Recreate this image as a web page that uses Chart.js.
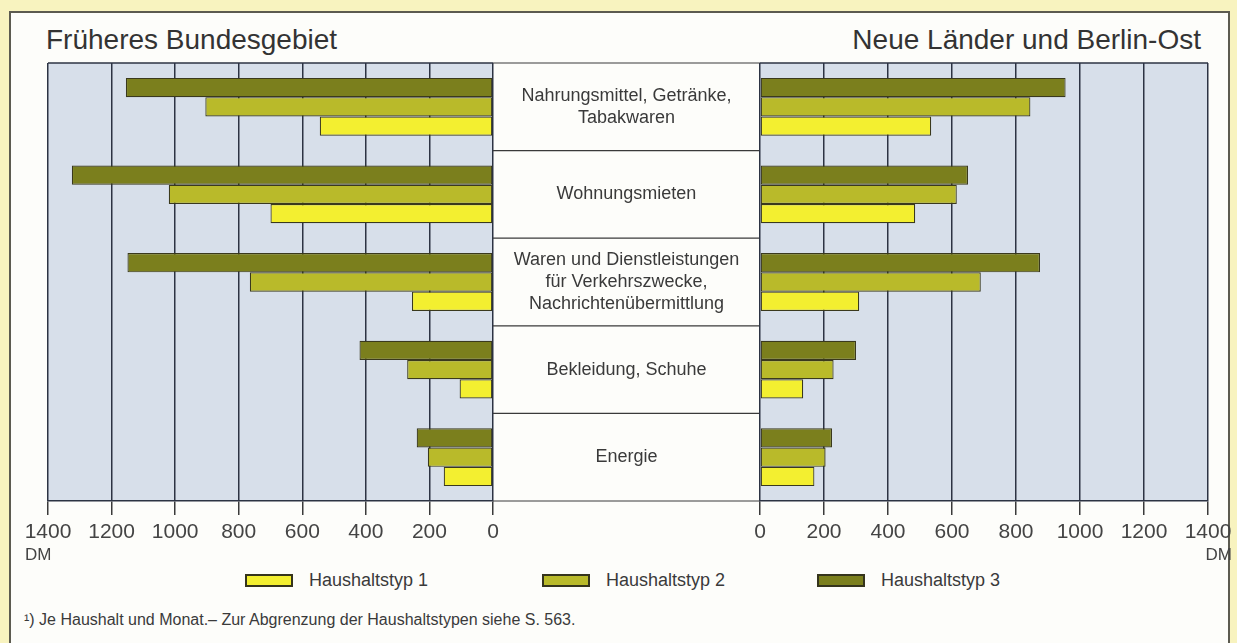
<!DOCTYPE html>
<html lang="de">
<head>
<meta charset="utf-8">
<title>Ausgaben nach Haushaltstypen</title>
<script src="https://cdn.jsdelivr.net/npm/chart.js@4.4.1/dist/chart.umd.min.js"></script>
<style>
    html, body { margin: 0; padding: 0; }
    body {
        width: 1237px; height: 643px; position: relative; overflow: hidden;
        background: #f8f3bf;
        font-family: "Liberation Sans", Arial, sans-serif; color: #3a3a3a;
    }
    .panel {
        position: absolute; left: 9px; top: 11px; width: 1217px; height: 640px;
        background: #fdfdfa;
        border-top: 2px solid #5c5b50; border-left: 2px solid #5c5b50; border-right: 2px solid #5c5b50;
    }
    .title { position: absolute; top: 26px; font-size: 28px; line-height: 1; color: #333; white-space: nowrap; }
    .unit { position: absolute; top: 546px; font-size: 17px; line-height: 1; color: #444; }
    canvas { position: absolute; }
    .legend-item { position: absolute; top: 571px; height: 19px; display: flex; align-items: center; font-size: 18px; color: #3a3a3a; white-space: nowrap; }
    .swatch { width: 44px; height: 9px; border: 2px solid #35341c; margin-right: 16px; }
    .footnote { position: absolute; left: 24px; top: 612px; font-size: 16px; line-height: 1; color: #3a3a3a; white-space: nowrap; }
</style>
</head>
<body>
<div class="panel"></div>
<div class="title" style="left:46px">Früheres Bundesgebiet</div>
<div class="title" style="right:36px">Neue Länder und Berlin-Ost</div>

<canvas id="westChart" width="760" height="520" style="left:0;top:50px"></canvas>
<canvas id="eastChart" width="497" height="520" style="left:740px;top:50px"></canvas>

<div class="unit" style="left:25px">DM</div>
<div class="unit" style="right:5px">DM</div>

<div id="legend"></div>
<div class="footnote">¹) Je Haushalt und Monat.– Zur Abgrenzung der Haushaltstypen siehe S. 563.</div>

<script>
// Kategorien (von oben nach unten)
const categories = [
    ['Nahrungsmittel, Getränke,', 'Tabakwaren'],
    'Wohnungsmieten',
    ['Waren und Dienstleistungen', 'für Verkehrszwecke,', 'Nachrichtenübermittlung'],
    'Bekleidung, Schuhe',
    'Energie'
];

// Achse in DM
const axisMin = 0;
const axisMax = 1400;
const axisStep = 200;

// Früheres Bundesgebiet (DM je Haushalt und Monat)
const westTyp1 = [545, 700, 255, 105, 155];
const westTyp2 = [905, 1020, 765, 270, 205];
const westTyp3 = [1155, 1325, 1150, 420, 240];

// Neue Länder und Berlin-Ost
const eastTyp1 = [535, 485, 310, 135, 170];
const eastTyp2 = [845, 615, 690, 230, 205];
const eastTyp3 = [955, 650, 875, 300, 225];

const legendLabels = ['Haushaltstyp 1', 'Haushaltstyp 2', 'Haushaltstyp 3'];
const typeColors = ['#f3ef30', '#b9ba2a', '#7b7f1d'];
const barBorder = '#3a391d';
const plotBg = '#d7dfea';
const gridColor = '#2c3343';
const labelFont = '"Liberation Sans", Arial, sans-serif';

// Plot background, top frame line and the centre label box
function makeFramePlugin(withCentre) {
    return {
        id: 'frame',
        beforeDraw(chart) {
            const { ctx, chartArea: a } = chart;
            ctx.save();
            ctx.fillStyle = plotBg;
            ctx.fillRect(a.left, a.top, a.right - a.left, a.bottom - a.top);
            ctx.restore();
        },
        afterDraw(chart) {
            const { ctx, chartArea: a } = chart;
            const yScale = chart.scales.y;
            ctx.save();
            ctx.strokeStyle = gridColor;
            ctx.lineWidth = 1.5;
            ctx.beginPath();
            ctx.moveTo(a.left, a.top);
            ctx.lineTo(a.right, a.top);
            ctx.stroke();

            if (withCentre) {
                const n = categories.length;
                const step = (yScale.bottom - yScale.top) / n;
                ctx.strokeStyle = '#3a3a3a';
                ctx.lineWidth = 1.2;
                for (let k = 0; k <= n; k++) {
                    const y = yScale.top + k * step;
                    ctx.beginPath();
                    ctx.moveTo(a.right, y);
                    ctx.lineTo(chart.width, y);
                    ctx.stroke();
                }
                // category labels centred in the box
                const cx = (a.right + chart.width) / 2;
                const lineH = 22;
                ctx.fillStyle = '#3a3a3a';
                ctx.font = '18px ' + labelFont;
                ctx.textAlign = 'center';
                ctx.textBaseline = 'middle';
                categories.forEach((label, i) => {
                    const lines = Array.isArray(label) ? label : [label];
                    const yc = yScale.getPixelForTick(i);
                    const y0 = yc - (lines.length - 1) * lineH / 2;
                    lines.forEach((line, j) => ctx.fillText(line, cx, y0 + j * lineH));
                });
            }
            ctx.restore();
        }
    };
}

function makeDatasets(t1, t2, t3) {
    // Haushaltstyp 3 sits on top inside each group
    const series = [[t3, 2], [t2, 1], [t1, 0]];
    return series.map(([values, idx]) => ({
        label: legendLabels[idx],
        data: values,
        backgroundColor: typeColors[idx],
        borderColor: barBorder,
        borderWidth: 1.2,
        borderSkipped: false,
        categoryPercentage: 0.66,
        barPercentage: 1.0
    }));
}

function makeOptions(reverse, showCentre) {
    const yAxis = {
        type: 'category',
        display: showCentre,
        position: 'right',
        grid: { display: false },
        border: { display: false },
        ticks: { display: false }
    };
    if (showCentre) {
        // reserve the white box between the two plots
        yAxis.afterFit = scale => { scale.width = 267; };
    }
    return {
        indexAxis: 'y',
        responsive: false,
        animation: false,
        layout: {
            padding: reverse ? { left: 48, top: 13, right: 0, bottom: 0 }
                             : { left: 20, top: 13, right: 29, bottom: 0 }
        },
        plugins: {
            legend: { display: false },
            tooltip: { enabled: false }
        },
        scales: {
            x: {
                type: 'linear',
                position: 'bottom',
                reverse: reverse,
                min: axisMin,
                max: axisMax,
                afterFit: scale => { scale.height = 69; },
                grid: {
                    color: gridColor,
                    lineWidth: 1.5,
                    drawTicks: true,
                    tickLength: 14,
                    tickColor: '#3a3a3a'
                },
                border: { display: true, color: gridColor, width: 1.5 },
                ticks: {
                    stepSize: axisStep,
                    autoSkip: false,
                    padding: 5,
                    color: '#444',
                    maxRotation: 0,
                    font: { family: labelFont, size: 21 },
                    callback: value => String(value)
                }
            },
            y: yAxis
        }
    };
}

// Früheres Bundesgebiet (nach links)
new Chart(document.getElementById('westChart'), {
    type: 'bar',
    data: { labels: categories, datasets: makeDatasets(westTyp1, westTyp2, westTyp3) },
    options: makeOptions(true, true),
    plugins: [makeFramePlugin(true)]
});

// Neue Länder und Berlin-Ost (nach rechts)
new Chart(document.getElementById('eastChart'), {
    type: 'bar',
    data: { labels: categories, datasets: makeDatasets(eastTyp1, eastTyp2, eastTyp3) },
    options: makeOptions(false, false),
    plugins: [makeFramePlugin(false)]
});

// Legende
const legendX = [245, 542, 817];
const legendEl = document.getElementById('legend');
legendLabels.forEach((text, i) => {
    const item = document.createElement('div');
    item.className = 'legend-item';
    item.style.left = legendX[i] + 'px';
    item.innerHTML = `<span class="swatch" style="background:${typeColors[i]}"></span>${text}`;
    legendEl.appendChild(item);
});
</script>
</body>
</html>
